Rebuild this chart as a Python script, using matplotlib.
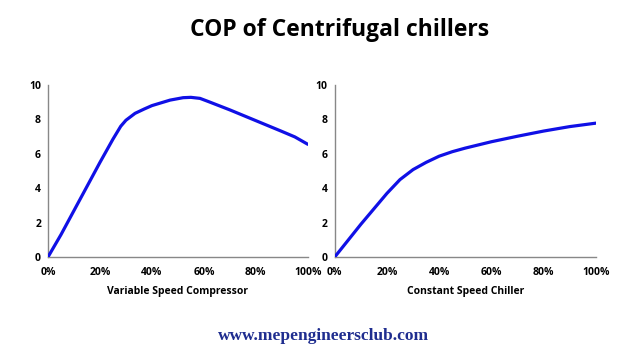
import matplotlib
matplotlib.use('Agg')
import matplotlib.pyplot as plt

# (load % vs COP)
vsd_load = [0, 5, 10, 15, 20, 25, 28, 30, 33.5, 37, 40, 47, 52, 55, 58.5, 62, 70, 78, 90, 95, 100]
vsd_cop = [0, 1.3, 2.7, 4.1, 5.5, 6.85, 7.6, 7.95, 8.35, 8.6, 8.8, 9.12, 9.26, 9.28, 9.22, 9.02,
           8.55, 8.05, 7.3, 6.98, 6.55]
const_load = [0, 5, 10, 15, 20, 25, 30, 35, 40, 45, 50, 60, 70, 80, 90, 100]
const_cop = [0, 0.95, 1.9, 2.8, 3.7, 4.5, 5.08, 5.5, 5.86, 6.12, 6.33, 6.7, 7.02, 7.32, 7.58, 7.78]
x_ticks = [0, 20, 40, 60, 80, 100]
x_ticklabels = ['0%', '20%', '40%', '60%', '80%', '100%']
y_ticks = [0, 2, 4, 6, 8, 10]
panel_titles = ['Variable Speed Compressor', 'Constant Speed Chiller']

plt.rcParams['font.family'] = ['Open Sans', 'DejaVu Sans']

fig = plt.figure(figsize=(6.4, 3.54), dpi=100)
ax1 = fig.add_axes([0.075, 0.274, 0.406, 0.486])
ax2 = fig.add_axes([0.523, 0.274, 0.408, 0.486])

for ax, xs, ys, name in [(ax1, vsd_load, vsd_cop, panel_titles[0]),
                         (ax2, const_load, const_cop, panel_titles[1])]:
    ax.plot(xs, ys, color='#1010e6', linewidth=2.3, solid_capstyle='round',
            solid_joinstyle='round')
    ax.set_xlim(0, 100)
    ax.set_ylim(0, 10)
    ax.set_xticks(x_ticks)
    ax.set_xticklabels(x_ticklabels)
    ax.set_yticks(y_ticks)
    ax.tick_params(length=0, labelsize=7.5, pad=5)
    ax.tick_params(axis='x', pad=7)
    for lab in ax.get_xticklabels() + ax.get_yticklabels():
        lab.set_fontweight('bold')
    ax.spines['top'].set_visible(False)
    ax.spines['right'].set_visible(False)
    for s in ['left', 'bottom']:
        ax.spines[s].set_color('#888888')
        ax.spines[s].set_linewidth(1.0)
        ax.spines[s].set_zorder(0)
    ax.set_xlabel(name, fontsize=7.5, fontweight='bold', labelpad=6)

fig.text(0.53, 0.915, 'COP of Centrifugal chillers', ha='center', va='center',
         fontsize=16.5, fontweight='bold')
fig.text(0.506, 0.05, 'www.mepengineersclub.com', ha='center', va='center',
         fontsize=12.5, fontweight='bold', family='Liberation Serif', color='#1f2d8f')

fig.savefig('out.png', dpi=100, facecolor='white')
